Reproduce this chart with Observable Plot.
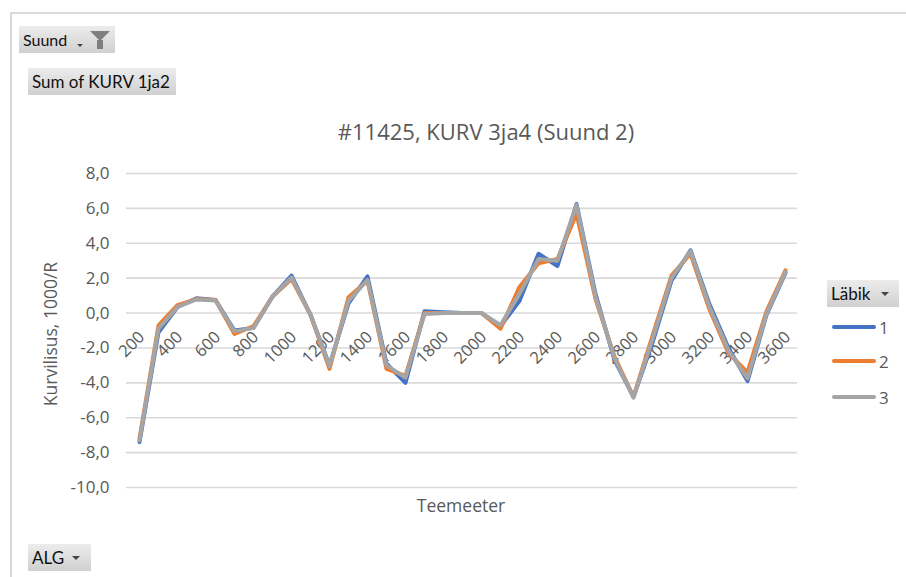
<!DOCTYPE html>
<html>
<head>
<meta charset="utf-8">
<script src="https://cdn.jsdelivr.net/npm/d3@7"></script>
<script src="https://cdn.jsdelivr.net/npm/@observablehq/plot@0.6"></script>
<style>
  html, body { margin: 0; padding: 0; background: #fff; }
  #page { position: relative; width: 906px; height: 577px; overflow: hidden; background: #fff; }
  #chart { position: absolute; left: 0; top: 0; }
  .frame { position: absolute; left: 10px; top: 12px; width: 900px; height: 570px;
           border-top: 2px solid #dadada; border-left: 2px solid #dadada; }
  .btn { position: absolute; height: 27px; line-height: 27px; font-family: Lato, "Open Sans", sans-serif;
         font-size: 16px; color: #111; padding-left: 4px;
         background: linear-gradient(#ececec, #d0d0d0); box-sizing: border-box; }
  .tri { position: absolute; width: 0; height: 0; border-left: 4px solid transparent;
         border-right: 4px solid transparent; border-top: 4px solid #444; }
  .funnel { position: absolute; width: 0; height: 0; border-left: 10px solid transparent;
            border-right: 10px solid transparent; border-top: 10px solid #7f7f7f; }
  .stem { position: absolute; width: 6px; height: 9px; background: #7f7f7f; }
  .txt { position: absolute; font-family: "Open Sans", sans-serif; color: #595959; white-space: nowrap; }
  .leg-line { position: absolute; width: 44px; height: 4px; border-radius: 2px; }
</style>
</head>
<body>
<div id="page">
  <div class="frame"></div>
  <div id="chart"></div>
</div>
<script>
// Categories (Teemeeter)
const categories = ["200","300","400","500","600","700","800","900","1000","1100","1200","1300","1400","1500","1600","1700","1800","1900","2000","2100","2200","2300","2400","2500","2600","2700","2800","2900","3000","3100","3200","3300","3400","3500","3600"];
// Series values (Läbik 1, 2, 3)
const labik1 = [-7.4,-1.1,0.35,0.85,0.75,-1.0,-0.85,0.95,2.15,-0.1,-3.0,0.55,2.1,-2.9,-4.0,0.1,0.05,0,0,-0.75,0.7,3.4,2.7,6.25,1.1,-2.7,-4.8,-1.7,1.85,3.6,0.5,-2.0,-3.9,-0.1,2.3];
const labik2 = [-7.2,-0.7,0.45,0.8,0.75,-1.2,-0.75,0.95,1.95,-0.1,-3.2,0.9,1.85,-3.2,-3.6,0.0,0.0,0,0,-0.9,1.5,2.85,3.1,5.7,0.8,-2.5,-4.8,-1.3,2.15,3.4,0.2,-2.3,-3.4,0.1,2.45];
const labik3 = [-7.3,-0.9,0.35,0.78,0.72,-1.05,-0.85,0.95,2.05,-0.1,-3.05,0.7,1.9,-3.0,-3.7,-0.05,0,0,0,-0.7,1.1,3.1,3.0,6.2,0.95,-2.6,-4.85,-1.5,2.0,3.55,0.35,-2.15,-3.75,-0.05,2.35];
const seriesNames = ["1","2","3"];
const seriesColors = ["#4472C4","#ED7D31","#A5A5A5"];
// Tick labels
const yTicks = [-10,-8,-6,-4,-2,0,2,4,6,8];
const xTickLabels = ["200","400","600","800","1000","1200","1400","1600","1800","2000","2200","2400","2600","2800","3000","3200","3400","3600"];
const titleText = "#11425, KURV 3ja4 (Suund 2)";
const yLabel = "Kurvilisus, 1000/R";
const xLabel = "Teemeeter";

const rows = [];
[labik1, labik2, labik3].forEach((vals, s) => {
  vals.forEach((v, i) => rows.push({cat: categories[i], value: v, series: seriesNames[s]}));
});

const font = "'Open Sans', sans-serif";
const svg = Plot.plot({
  width: 906,
  height: 577,
  marginLeft: 126,
  marginRight: 109,
  marginTop: 173,
  marginBottom: 90,
  style: {fontFamily: font, background: "transparent"},
  x: {type: "point", domain: categories, padding: 0.5, axis: null},
  y: {domain: [-10, 8], axis: null},
  color: {domain: seriesNames, range: seriesColors},
  marks: [
    Plot.gridY(yTicks, {stroke: "#d9d9d9", strokeOpacity: 1, strokeWidth: 1.6}),
    Plot.axisY(yTicks, {tickSize: 0, tickPadding: 17, fontSize: 17, fill: "#595959", label: null,
      tickFormat: d => d.toFixed(1).replace(".", ",")}),
    Plot.text(xTickLabels, {x: d => d, y: d => 0, text: d => d, rotate: -45, textAnchor: "end",
      lineAnchor: "bottom", dx: 6, dy: 25, fontSize: 16.5, fill: "#595959"}),
    Plot.line(rows, {x: "cat", y: "value", z: "series", stroke: "series", strokeWidth: 4,
      strokeLinejoin: "round", strokeLinecap: "round"})
  ]
});
document.getElementById("chart").appendChild(svg);

const page = document.getElementById("page");
function add(html) { page.insertAdjacentHTML("beforeend", html); }

// Pivot field buttons
add(`<div class="btn" style="left:19px;top:26px;width:96px;">Suund</div>`);
add(`<div class="tri" style="left:77px;top:44px;border-left-width:3px;border-right-width:3px;border-top-width:3px;"></div>`);
add(`<div class="funnel" style="left:90px;top:31px;"></div>`);
add(`<div class="stem" style="left:97px;top:40px;"></div>`);
add(`<div class="btn" style="left:28px;top:68px;width:148px;font-size:17px;">Sum of KURV 1ja2</div>`);
add(`<div class="btn" style="left:28px;top:544px;width:63px;font-size:17px;">ALG</div>`);
add(`<div class="tri" style="left:72px;top:556px;"></div>`);
add(`<div class="btn" style="left:827px;top:280px;width:72px;font-size:17px;">Läbik</div>`);
add(`<div class="tri" style="left:881px;top:292px;"></div>`);

// Title and axis titles
add(`<div class="txt" style="left:486px;top:131px;font-size:22px;transform:translate(-50%,-50%);">${titleText}</div>`);
add(`<div class="txt" style="left:50px;top:334px;font-size:17.5px;transform:translate(-50%,-50%) rotate(-90deg);">${yLabel}</div>`);
add(`<div class="txt" style="left:461px;top:505px;font-size:17.5px;transform:translate(-50%,-50%);">${xLabel}</div>`);

// Legend
const legY = [327, 361, 397];
seriesNames.forEach((n, i) => {
  add(`<div class="leg-line" style="left:832px;top:${legY[i]-2}px;background:${seriesColors[i]};"></div>`);
  add(`<div class="txt" style="left:879px;top:${legY[i]}px;font-size:17px;transform:translateY(-50%);">${n}</div>`);
});
</script>
</body>
</html>
